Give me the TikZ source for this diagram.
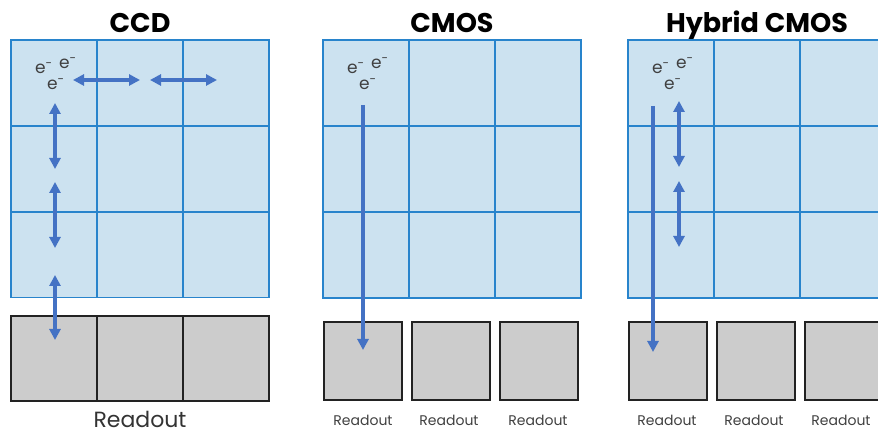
\documentclass[tikz,border=0pt]{standalone}
\usepackage{fontspec}
\setmainfont{Poppins}
\usetikzlibrary{arrows.meta}

\definecolor{pixfill}{RGB}{204,226,240}
\definecolor{pixline}{RGB}{40,132,204}
\definecolor{arrowblue}{RGB}{68,114,196}
\definecolor{readfill}{RGB}{204,204,204}
\definecolor{readline}{RGB}{34,34,34}

\begin{document}
\begin{tikzpicture}[x=1pt, y=-1pt,
    panel/.style={fill=pixfill, minimum width=258pt, minimum height=258pt, inner sep=0pt},
    pixel/.style={draw=pixline, line width=1.6pt, minimum width=86pt, minimum height=86pt, inner sep=0pt},
    readout/.style={draw=readline, fill=readfill, line width=1.8pt, minimum width=78pt, minimum height=78pt, inner sep=0pt},
    title/.style={font=\fontsize{27}{30}\selectfont\bfseries, anchor=base},
    elec/.style={font=\fontsize{17}{20}\selectfont, text=black!75, inner sep=0pt, anchor=base west},
    rolabel/.style={font=\fontsize{14}{16}\selectfont, text=black!75, anchor=base, inner sep=0pt},
    move/.style={draw=arrowblue, line width=3.4pt, {Triangle[length=11pt,width=11pt]}-{Triangle[length=11pt,width=11pt]}},
    flow/.style={draw=arrowblue, line width=3.4pt, -{Triangle[length=11pt,width=11pt]}}]
    \useasboundingbox (0,0) rectangle (878,435);
    \clip (0,0) rectangle (878,435);

    % CCD
    \node[title] (ccdtitle) at (140,33) {CCD};
    \node[panel] (ccdpanel) at (140,168.5) {};
    \foreach \i/\y in {1/83,2/169,3/254.5}
      \foreach \j/\x in {1/54,2/140,3/226}
        \node[pixel] (ccd\i\j) at (\x,\y) {};
    \node[fill=readfill, minimum width=258pt, minimum height=85pt, inner sep=0pt] (ccdrorow) at (140,358.5) {};
    \foreach \j/\x in {1/54,2/140,3/226}
      \node[readout, fill=none, minimum width=86pt, minimum height=85pt] (ccdro\j) at (\x,358.5) {};
    \node[font=\fontsize{22}{26}\selectfont, text=black!80, anchor=base, inner sep=0pt, text depth=0pt] (ccdlabel) at (140,427) {Readout};
    \node[elec] (ccde1) at (35,74) {e\textsuperscript{-}};
    \node[elec] (ccde2) at (59,69) {e\textsuperscript{-}};
    \node[elec] (ccde3) at (47,90) {e\textsuperscript{-}};

    \coordinate (ccdh1a) at (73,80);
    \coordinate (ccdh1b) at (140,80);
    \coordinate (ccdh2a) at (150,80);
    \coordinate (ccdh2b) at (217,80);
    \coordinate (ccdv1a) at (55,103);
    \coordinate (ccdv1b) at (55,169);
    \coordinate (ccdv2a) at (55,182);
    \coordinate (ccdv2b) at (55,248);
    \coordinate (ccdv3a) at (55,275);
    \coordinate (ccdv3b) at (55,340);
    \draw[move] (ccdh1a) -- (ccdh1b);
    \draw[move] (ccdh2a) -- (ccdh2b);
    \draw[move] (ccdv1a) -- (ccdv1b);
    \draw[move] (ccdv2a) -- (ccdv2b);
    \draw[move] (ccdv3a) -- (ccdv3b);

    % CMOS
    \node[title] (cmostitle) at (452,33) {CMOS};
    \node[panel] (cmospanel) at (452,169) {};
    \foreach \i/\y in {1/83,2/169,3/255}
      \foreach \j/\x in {1/366,2/452,3/538}
        \node[pixel] (cmos\i\j) at (\x,\y) {};
    \foreach \j/\x in {1/363,2/451,3/539}
      \node[readout] (cmosro\j) at (\x,361) {};
    \foreach \j/\x in {1/363,2/449,3/538}
      \node[rolabel] (cmoslabel\j) at (\x,425) {Readout};
    \node[elec] (cmose1) at (347,74) {e\textsuperscript{-}};
    \node[elec] (cmose2) at (371,69) {e\textsuperscript{-}};
    \node[elec] (cmose3) at (359,90) {e\textsuperscript{-}};

    \coordinate (cmosa) at (363,105);
    \coordinate (cmosb) at (363,350);
    \draw[flow] (cmosa) -- (cmosb);

    % Hybrid CMOS
    \node[title] (hybtitle) at (757,33) {Hybrid CMOS};
    \node[panel] (hybpanel) at (757,169) {};
    \foreach \i/\y in {1/83,2/169,3/255}
      \foreach \j/\x in {1/671,2/757,3/843}
        \node[pixel] (hyb\i\j) at (\x,\y) {};
    \foreach \j/\x in {1/668,2/756,3/844}
      \node[readout] (hybro\j) at (\x,361) {};
    \foreach \j/\x in {1/667,2/754,3/841}
      \node[rolabel] (hyblabel\j) at (\x,425) {Readout};
    \node[elec] (hybe1) at (652,74) {e\textsuperscript{-}};
    \node[elec] (hybe2) at (676,69) {e\textsuperscript{-}};
    \node[elec] (hybe3) at (664,90) {e\textsuperscript{-}};

    \coordinate (hyba) at (653,106);
    \coordinate (hybb) at (653,352);
    \coordinate (hybv1a) at (679,101);
    \coordinate (hybv1b) at (679,167);
    \coordinate (hybv2a) at (679,181);
    \coordinate (hybv2b) at (679,247);
    \draw[flow] (hyba) -- (hybb);
    \draw[move] (hybv1a) -- (hybv1b);
    \draw[move] (hybv2a) -- (hybv2b);
  \end{tikzpicture}
\end{document}
